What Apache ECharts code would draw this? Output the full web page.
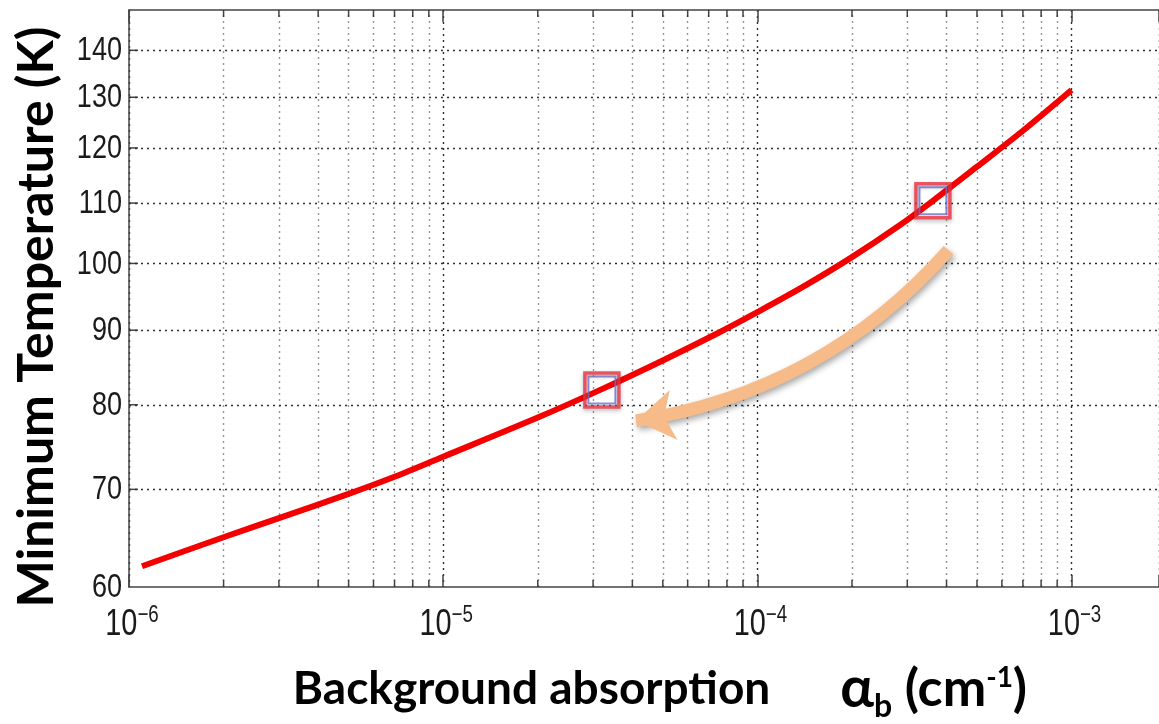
<!DOCTYPE html>
<html><head><meta charset="utf-8">
<script src="https://cdn.jsdelivr.net/npm/echarts@6/dist/echarts.min.js"></script>
<style>html,body{margin:0;padding:0;background:#fff}#c{width:1159px;height:724px}</style>
</head><body><div id="c"></div>
<script>
// ---- data ----
const absorption = [1.1e-6, 2e-6, 3e-6, 5e-6, 7e-6, 1e-5, 2e-5, 3.2e-5, 5e-5, 7.5e-5, 1e-4, 1.4e-4, 2e-4,  2.8e-4, 3.62e-4, 5e-4,  7e-4,  1e-3];
const minTemp    = [62.0,   64.9, 66.9, 69.5, 71.4, 73.7, 78.4, 82.0,  85.8, 89.6,  92.6, 96.4,   101.0, 106.0,  110.4,   116.5, 123.3, 131.5];
const markedAbsorption = [3.2e-5, 3.62e-4];
const markedTemp       = [81.9, 110.4];
const arrowFrom = [4.06e-4, 102.1];
const arrowTo   = [4.11e-5, 78.0];
const yTicks = [60, 70, 80, 90, 100, 110, 120, 130, 140];
const xMajorTicks = [1e-6, 1e-5, 1e-4, 1e-3];
const xMajorExp = ['\u22126', '\u22125', '\u22124', '\u22123'];
const xMinorTicks = [2e-6,3e-6,4e-6,5e-6,6e-6,7e-6,8e-6,9e-6,
                     2e-5,3e-5,4e-5,5e-5,6e-5,7e-5,8e-5,9e-5,
                     2e-4,3e-4,4e-4,5e-4,6e-4,7e-4,8e-4,9e-4];
const xMin = 1e-6, xMax = 1.898e-3, yMin = 60, yMax = 149.2;

const gridStyle = {color: '#2e2e2e', width: 1.4, type: [2, 4]};
const tickFont = "'Liberation Sans', Arial, sans-serif";
const titleFont = "Lato, 'Open Sans', sans-serif";

const chart = echarts.init(document.getElementById('c'), null, {renderer: 'canvas'});
const axisCommon = {
  type: 'log', logBase: 10, min: xMin, max: xMax,
  axisLine: {show: true, lineStyle: {color: '#444', width: 1.5}},
  axisTick: {show: true, inside: true, length: 12, lineStyle: {color: '#444', width: 1.5}},
  axisLabel: {show: false}
};
chart.setOption({
  animation: false,
  backgroundColor: '#fff',
  grid: {left: 129, top: 10, right: -2, bottom: 137},
  xAxis: [
    Object.assign({}, axisCommon, {position: 'bottom', splitLine: {show: true, lineStyle: gridStyle}}),
    Object.assign({}, axisCommon, {position: 'top', splitLine: {show: false}})
  ],
  yAxis: {
    type: 'log', logBase: 10, min: yMin, max: yMax,
    axisLine: {show: true, lineStyle: {color: '#444', width: 1.5}},
    axisTick: {show: false}, axisLabel: {show: false}, splitLine: {show: false}
  },
  series: [{
    type: 'line', name: 'hgrid', data: [], silent: true,
    markLine: {
      silent: true, symbol: 'none', animation: false, label: {show: false},
      data: yTicks.filter(v => v !== yMin).map(v => ({yAxis: v, lineStyle: gridStyle}))
    }
  }, {
    type: 'lines', name: 'vgrid', coordinateSystem: 'cartesian2d', silent: true, z: 1,
    data: xMinorTicks.map(v => ({coords: [[v, yMin], [v, yMax]]})),
    lineStyle: gridStyle
  }, {
    type: 'line', name: 'Minimum temperature',
    data: absorption.map((x, i) => [x, minTemp[i]]),
    smooth: 0.3, showSymbol: false, z: 5,
    lineStyle: {color: '#f40000', width: 6}
  }, {
    type: 'lines', coordinateSystem: 'cartesian2d', z: 6,
    data: [{coords: [arrowFrom, arrowTo]}],
    symbol: ['none', 'arrow'], symbolSize: [46, 38],
    lineStyle: {color: '#f6bb89', width: 13, opacity: 1, curveness: 0.18,
                shadowBlur: 6, shadowColor: 'rgba(0,0,0,0.35)', shadowOffsetX: 2, shadowOffsetY: 3},
    itemStyle: {color: '#f6bb89'}
  }, {
    type: 'scatter', name: 'marked', z: 7,
    data: markedAbsorption.map((x, i) => [x, markedTemp[i]]),
    symbol: 'rect', symbolSize: 34,
    itemStyle: {color: 'rgba(0,0,0,0)', borderColor: '#e8303e', borderWidth: 3.5,
                shadowBlur: 4, shadowColor: 'rgba(0,0,0,0.35)', shadowOffsetY: 2}
  }, {
    type: 'scatter', name: 'markedInner', z: 8,
    data: markedAbsorption.map((x, i) => [x, markedTemp[i]]),
    symbol: 'rect', symbolSize: 27,
    itemStyle: {color: 'rgba(0,0,0,0)', borderColor: '#6e6ec4', borderWidth: 2}
  }]
});

// tick labels and small inner ticks placed through the chart's own scales
const px = v => chart.convertToPixel({xAxisIndex: 0}, v);
const py = v => chart.convertToPixel({yAxisIndex: 0}, v);
const axisLeft = px(xMin), axisBottom = py(yMin), axisTop = py(yMax);
const tickStyle = {stroke: '#444', lineWidth: 1.5};
const graphics = [{
  type: 'text', id: 'ytitle', x: 37, y: 317, rotation: Math.PI / 2,
  style: {text: 'Minimum Temperature (K)', font: 'bold 50px ' + titleFont,
          fill: '#000', align: 'center', verticalAlign: 'middle'}
}, {
  type: 'text', id: 'xtitle', x: 660, y: 689,
  style: {
    text: '{t|Background absorption}{al|α}{sub|b}{u| (cm}{sup|-1}{u|)}',
    align: 'center', verticalAlign: 'middle',
    rich: {
      t: {font: 'bold 46px ' + titleFont, fill: '#000', lineHeight: 52, verticalAlign: 'middle'},
      u: {font: 'bold 52px ' + titleFont, fill: '#000', lineHeight: 52, verticalAlign: 'middle'},
      al: {font: 'bold 56px ' + titleFont, fill: '#000', lineHeight: 52, verticalAlign: 'middle', padding: [0, 0, 0, 70]},
      sub: {font: 'bold 32px ' + titleFont, fill: '#000', lineHeight: 30, verticalAlign: 'bottom', padding: [0, 0, -8, 0]},
      sup: {font: 'bold 28px ' + titleFont, fill: '#000', lineHeight: 26, verticalAlign: 'top', padding: [1, 0, 0, 0]}
    }
  }
}];
yTicks.forEach((v, i) => {
  const y = py(v);
  graphics.push({
    type: 'text', id: 'yl' + i, x: axisLeft - 7, y: y + 1, scaleX: 0.82,
    style: {text: String(v), font: '33px ' + tickFont, fill: '#1a1a1a', align: 'right', verticalAlign: 'middle'}
  });
  if (v !== yMin) {
    graphics.push({type: 'line', id: 'yt' + i, silent: true,
      shape: {x1: axisLeft, y1: y, x2: axisLeft + 9, y2: y}, style: tickStyle});
  }
});
xMinorTicks.forEach((v, i) => {
  const x = px(v);
  graphics.push({type: 'line', id: 'xtb' + i, silent: true,
    shape: {x1: x, y1: axisBottom, x2: x, y2: axisBottom - 7}, style: tickStyle});
  graphics.push({type: 'line', id: 'xtt' + i, silent: true,
    shape: {x1: x, y1: axisTop, x2: x, y2: axisTop + 7}, style: tickStyle});
});
xMajorTicks.forEach((v, i) => {
  graphics.push({
    type: 'text', id: 'xl' + i, x: px(v) + 3, y: axisBottom + 16, scaleX: 0.78,
    style: {
      text: '{a|10}{b|' + xMajorExp[i] + '}', align: 'center', verticalAlign: 'top',
      rich: {
        a: {font: '37px ' + tickFont, fill: '#1a1a1a', lineHeight: 40, verticalAlign: 'bottom', padding: [5, 0, 0, 0]},
        b: {font: '24px ' + tickFont, fill: '#1a1a1a', lineHeight: 24, verticalAlign: 'top'}
      }
    }
  });
});
chart.setOption({graphic: graphics});
</script>
</body></html>
